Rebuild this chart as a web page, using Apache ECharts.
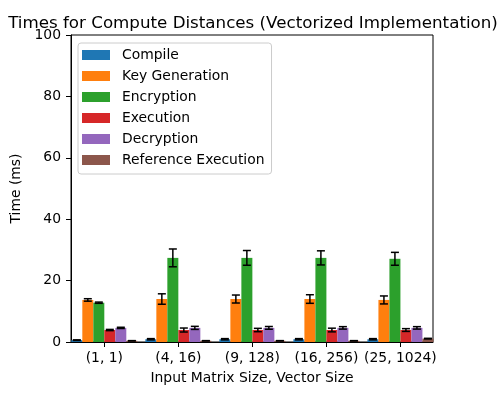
<!DOCTYPE html>
<html>
<head>
<meta charset="utf-8">
<script src="https://cdn.jsdelivr.net/npm/echarts@6/dist/echarts.min.js"></script>
<style>
  html, body { margin: 0; padding: 0; background: #fff; }
  #main { width: 500px; height: 400px; }
</style>
</head>
<body>
<div id="main"></div>
<script>
// data
var categories = ['(1, 1)', '(4, 16)', '(9, 128)', '(16, 256)', '(25, 1024)'];
var seriesNames = ['Compile', 'Key Generation', 'Encryption', 'Execution', 'Decryption', 'Reference Execution'];
var compileTimes = [0.6, 0.9, 0.9, 0.9, 0.9];
var compileErr = [0.1, 0.2, 0.2, 0.2, 0.2];
var keyGenTimes = [13.7, 14.0, 14.0, 14.0, 13.7];
var keyGenErr = [0.4, 1.7, 1.3, 1.4, 1.3];
var encryptionTimes = [12.8, 27.4, 27.4, 27.4, 27.1];
var encryptionErr = [0.2, 2.9, 2.4, 2.3, 2.1];
var executionTimes = [3.9, 3.9, 3.9, 3.9, 3.9];
var executionErr = [0.2, 0.65, 0.55, 0.6, 0.45];
var decryptionTimes = [4.6, 4.6, 4.6, 4.6, 4.6];
var decryptionErr = [0.2, 0.5, 0.45, 0.4, 0.4];
var referenceTimes = [0.4, 0.4, 0.4, 0.4, 1.1];
var referenceErr = [0.05, 0.05, 0.05, 0.05, 0.1];
var yTicks = [0, 20, 40, 60, 80, 100];

var values = [compileTimes, keyGenTimes, encryptionTimes, executionTimes, decryptionTimes, referenceTimes];
var errors = [compileErr, keyGenErr, encryptionErr, executionErr, decryptionErr, referenceErr];
var colors = ['#1f77b4', '#ff7f0e', '#2ca02c', '#d62728', '#9467bd', '#8c564b'];
var barW = 11;
var font = 'DejaVu Sans';
var fs = 13.9;

var myChart = echarts.init(document.getElementById('main'));

var series = [];
values.forEach(function (vals, s) {
  series.push({
    name: seriesNames[s],
    type: 'bar',
    barWidth: barW,
    barGap: '0%',
    itemStyle: { color: colors[s] },
    data: vals.map(function (v, i) { return [i, v]; })
  });
});
// error bars, one custom series per bar series, shifted to sit on its bar
values.forEach(function (vals, s) {
  var offset = (s - (values.length - 1) / 2) * barW;
  series.push({
    type: 'custom',
    z: 10,
    silent: true,
    data: vals.map(function (v, i) { return [i, v - errors[s][i], v + errors[s][i]]; }),
    renderItem: function (params, api) {
      var top = api.coord([api.value(0), api.value(2)]);
      var bot = api.coord([api.value(0), api.value(1)]);
      var x = top[0] + offset;
      var cap = 4;
      var st = { stroke: '#000', lineWidth: 1.5 };
      return {
        type: 'group',
        children: [
          { type: 'line', shape: { x1: x, y1: top[1], x2: x, y2: bot[1] }, style: st },
          { type: 'line', shape: { x1: x - cap, y1: top[1], x2: x + cap, y2: top[1] }, style: st },
          { type: 'line', shape: { x1: x - cap, y1: bot[1], x2: x + cap, y2: bot[1] }, style: st }
        ]
      };
    }
  });
});

var option = {
  animation: false,
  textStyle: { fontFamily: font, color: '#000' },
  title: {
    text: 'Times for Compute Distances (Vectorized Implementation)',
    left: 248,
    textAlign: 'center',
    top: 10,
    textStyle: { fontFamily: font, fontSize: 16.7, fontWeight: 'normal', color: '#000' }
  },
  legend: {
    orient: 'vertical',
    left: 78,
    top: 43,
    padding: [5, 7, 7, 4],
    itemWidth: 28,
    itemHeight: 10,
    itemGap: 7,
    icon: 'rect',
    backgroundColor: '#fff',
    borderColor: '#ccc',
    borderWidth: 1,
    borderRadius: 3,
    data: seriesNames,
    textStyle: { fontFamily: font, fontSize: fs, color: '#000', padding: [0, 0, 0, 7] }
  },
  grid: {
    left: 71, top: 35, width: 362, height: 307,
    show: true, borderColor: '#000', borderWidth: 1
  },
  xAxis: {
    type: 'value',
    min: -0.45,
    max: 4.44,
    name: 'Input Matrix Size, Vector Size',
    nameLocation: 'middle',
    nameGap: 29,
    nameTextStyle: { fontFamily: font, fontSize: fs, color: '#000' },
    axisLine: { show: true, onZero: false, lineStyle: { color: '#000', width: 1 } },
    axisTick: { show: true, length: 5, customValues: [0, 1, 2, 3, 4], lineStyle: { color: '#000' } },
    axisLabel: {
      customValues: [0, 1, 2, 3, 4],
      formatter: function (v) { return categories[Math.round(v)]; },
      fontFamily: font, fontSize: fs, color: '#000', margin: 9
    },
    splitLine: { show: false }
  },
  yAxis: {
    type: 'value',
    min: 0,
    max: 100,
    interval: 20,
    name: 'Time (ms)',
    nameLocation: 'middle',
    nameGap: 38,
    nameTextStyle: { fontFamily: font, fontSize: fs, color: '#000' },
    axisLine: { show: true, onZero: false, lineStyle: { color: '#000', width: 1 } },
    axisTick: { show: true, length: 5, lineStyle: { color: '#000' } },
    axisLabel: {
      fontFamily: font, fontSize: fs, color: '#000', margin: 10,
      formatter: function (v) { return yTicks.indexOf(v) >= 0 ? String(v) : ''; }
    },
    splitLine: { show: false }
  },
  series: series
};
myChart.setOption(option, true);
</script>
</body>
</html>
